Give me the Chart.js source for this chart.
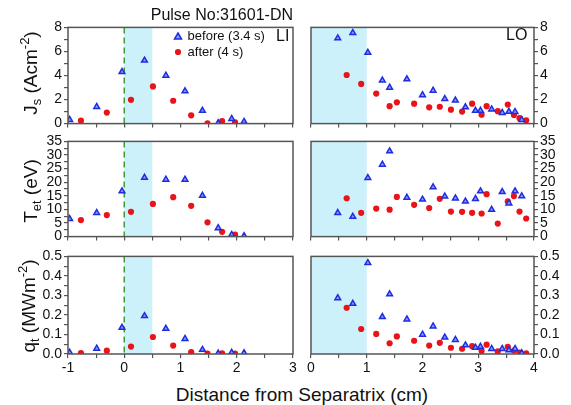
<!DOCTYPE html>
<html>
<head>
<meta charset="utf-8">
<script src="https://cdn.jsdelivr.net/npm/chart.js@4.4.1/dist/chart.umd.min.js"></script>
<style>
body { margin:0; background:#fff; font-family:"Liberation Sans", Arial, sans-serif; color:#111; }
#wrap { position:relative; width:571px; height:405px; overflow:hidden; }
.panel { position:absolute; }
.txt { position:absolute; white-space:nowrap; line-height:1; }
.ytitle { position:absolute; white-space:nowrap; font-size:19px; line-height:1; transform:translate(-50%,-50%) rotate(-90deg); }
sub, sup { font-size:0.68em; line-height:0; }
</style>
</head>
<body>
<div id="wrap">
  <div class="panel" style="left:0;top:17px;width:301px;height:117px"><canvas id="liJs"></canvas></div>
  <div class="panel" style="left:303px;top:17px;width:268px;height:117px"><canvas id="loJs"></canvas></div>
  <div class="panel" style="left:0;top:131px;width:301px;height:116px"><canvas id="liTe"></canvas></div>
  <div class="panel" style="left:303px;top:131px;width:268px;height:116px"><canvas id="loTe"></canvas></div>
  <div class="panel" style="left:0;top:246px;width:301px;height:132px"><canvas id="liQ"></canvas></div>
  <div class="panel" style="left:303px;top:246px;width:268px;height:132px"><canvas id="loQ"></canvas></div>

  <div class="txt" style="right:278px;top:7px;font-size:16px">Pulse No:31601-DN</div>
  <div class="txt" style="left:276px;top:28px;font-size:16px">LI</div>
  <div class="txt" style="left:506px;top:27px;font-size:16px">LO</div>
  <div class="txt" style="left:172px;top:29px;font-size:13px">
    <svg width="12" height="10" style="vertical-align:-1px"><polygon points="6,2 9.5,8 2.5,8" fill="#8f9cff" stroke="#1f2de0" stroke-width="1.5"/></svg>
    before (3.4 s)</div>
  <div class="txt" style="left:172px;top:45px;font-size:13px">
    <svg width="12" height="10" style="vertical-align:-1px"><circle cx="6" cy="5" r="3.1" fill="#e8141a"/></svg>
    after (4 s)</div>

  <div class="ytitle" style="left:30px;top:73px">J<sub>s</sub> (Acm<sup>-2</sup>)</div>
  <div class="ytitle" style="left:30px;top:191px">T<sub>et</sub> (eV)</div>
  <div class="ytitle" style="left:28px;top:306px">q<sub>t</sub> (MWm<sup>-2</sup>)</div>

  <div class="txt" style="left:302px;top:385px;font-size:19px;transform:translateX(-50%)">Distance from Separatrix (cm)</div>
</div>

<script>
// inner-limiter (LI) probes
const liBeforeX = [-0.97, -0.49, -0.04, 0.36, 0.74, 1.08, 1.39, 1.67, 1.91, 2.13];
const liBeforeJs = [0.32, 1.4, 4.3, 5.25, 4.0, 2.7, 1.08, 0.05, 0.4, 0.16];
const liBeforeTe = [6.5, 8.75, 16.7, 21.7, 21.0, 21.0, 15.05, 3.15, 0.7, 0.23];
const liBeforeQ = [0.007, 0.028, 0.135, 0.195, 0.13, 0.078, 0.022, 0.003, 0.007, 0.005];

const liAfterX = [-0.77, -0.31, 0.12, 0.51, 0.87, 1.19, 1.48, 1.74, 1.97];
const liAfterJs = [0.24, 0.92, 1.98, 3.09, 1.9, 0.69, 0.03, 0.21, 0.1];
const liAfterTe = [6.07, 7.9, 9.1, 12.0, 14.5, 11.3, 5.25, 1.75, 0.7];
const liAfterQ = [0.005, 0.017, 0.038, 0.087, 0.043, 0.01, 0.002, 0.003, 0.002];

// outer (LO) probes
const loBeforeX = [0.48, 0.75, 1.02, 1.28, 1.41, 1.72, 2.0, 2.19, 2.40, 2.59, 2.77, 2.95, 3.04, 3.24, 3.43, 3.55, 3.66, 3.78];
const loBeforeJs = [7.1, 7.55, 5.9, 3.6, 3.0, 3.7, 2.38, 2.75, 2.06, 1.93, 1.37, 1.08, 1.08, 1.19, 0.9, 1.0, 0.98, 0.32];
const loBeforeTe = [8.75, 7.35, 21.6, 26.5, 31.4, 14.35, 13.65, 18.2, 14.8, 14.1, 12.95, 13.9, 16.7, 9.9, 16.45, 12.25, 16.7, 14.9];
const loBeforeQ = [0.287, 0.258, 0.467, 0.19, 0.307, 0.178, 0.1, 0.142, 0.085, 0.073, 0.045, 0.033, 0.038, 0.027, 0.027, 0.02, 0.027, 0.005];

const loAfterX = [0.64, 0.90, 1.17, 1.41, 1.54, 1.85, 2.12, 2.31, 2.51, 2.71, 2.89, 3.06, 3.15, 3.35, 3.53, 3.64, 3.74, 3.86];
const loAfterJs = [4.04, 3.3, 2.5, 1.45, 1.77, 1.66, 1.35, 1.4, 1.16, 1.0, 1.66, 0.74, 1.45, 1.03, 1.58, 0.71, 0.45, 0.26];
const loAfterTe = [14.1, 8.75, 10.3, 9.9, 14.6, 11.7, 10.5, 13.9, 9.2, 9.1, 8.75, 8.5, 15.6, 4.8, 12.95, 14.9, 9.2, 6.65];
const loAfterQ = [0.237, 0.128, 0.103, 0.055, 0.09, 0.068, 0.043, 0.057, 0.032, 0.027, 0.04, 0.015, 0.048, 0.013, 0.037, 0.018, 0.007, 0.003];

const font = {family: '"Liberation Sans", Arial, sans-serif', size: 14};
const axisColor = '#555';

function pts(xs, ys) {
  return xs.map((x, i) => ({x: x, y: ys[i]}));
}

// shaded band, separatrix line and the closed frame
const decor = {
  id: 'decor',
  beforeDatasetsDraw(chart, args, opts) {
    const {ctx, chartArea: a, scales: {x}} = chart;
    ctx.save();
    ctx.fillStyle = '#cdf1fb';
    const x0 = x.getPixelForValue(0), x1 = x.getPixelForValue(opts.band);
    ctx.fillRect(x0, a.top, x1 - x0, a.bottom - a.top);
    if (opts.sep) {
      ctx.strokeStyle = '#3d9a3d';
      ctx.lineWidth = 1.5;
      ctx.setLineDash([6, 4]);
      ctx.beginPath();
      ctx.moveTo(x0, a.top);
      ctx.lineTo(x0, a.bottom);
      ctx.stroke();
    }
    ctx.restore();
  },
  afterDraw(chart) {
    const {ctx, chartArea: a} = chart;
    ctx.save();
    ctx.strokeStyle = axisColor;
    ctx.lineWidth = 1.5;
    ctx.strokeRect(a.left, a.top, a.right - a.left, a.bottom - a.top);
    ctx.restore();
  }
};

function makePanel(id, side, before, after, yMax, yStep, yLabel, xLabels) {
  const left = side === 'LI';
  new Chart(document.getElementById(id), {
    type: 'scatter',
    data: {
      datasets: [
        {label: 'before (3.4 s)', data: before, pointStyle: 'triangle', pointRadius: 3.3,
         backgroundColor: '#8f9cff', borderColor: '#1f2de0', borderWidth: 1.5},
        {label: 'after (4 s)', data: after, pointStyle: 'circle', pointRadius: 3.1,
         backgroundColor: '#e8141a', borderColor: '#e8141a', borderWidth: 0}
      ]
    },
    options: {
      responsive: true,
      maintainAspectRatio: false,
      animation: false,
      events: [],
      layout: {padding: left ? {top: 8, right: 8, left: 0, bottom: 0} : {top: 8, right: 0, left: 8, bottom: 0}},
      plugins: {
        legend: {display: false},
        tooltip: {enabled: false},
        decor: {band: left ? 0.5 : 1, sep: left}
      },
      scales: {
        x: {
          type: 'linear',
          min: left ? -1 : 0,
          max: left ? 3 : 4,
          border: {display: false},
          grid: {drawOnChartArea: false, tickLength: 4, color: axisColor, lineWidth: 1.2},
          ticks: {stepSize: 0.5, autoSkip: false, maxRotation: 0, padding: 2, font: font, color: '#111',
                  display: xLabels,
                  callback: v => Number.isInteger(v) ? v : ''},
          afterFit: s => { s.height = xLabels ? 24 : 8; }
        },
        y: {
          position: left ? 'left' : 'right',
          min: 0,
          max: yMax,
          border: {display: false},
          grid: {drawOnChartArea: false, tickLength: 4, color: axisColor, lineWidth: 1.2},
          ticks: {stepSize: yStep, autoSkip: false, padding: 2, font: font, color: '#111', callback: yLabel},
          afterFit: s => { s.width = left ? 68 : 37; }
        }
      }
    },
    plugins: [decor]
  });
}

const jsLabel = v => v % 2 === 0 ? v : '';
const teLabel = v => v % 5 === 0 ? v : '';
const qLabel = v => Math.abs(v * 10 - Math.round(v * 10)) < 1e-6 ? v.toFixed(1) : '';

makePanel('liJs', 'LI', pts(liBeforeX, liBeforeJs), pts(liAfterX, liAfterJs), 8, 1, jsLabel, false);
makePanel('loJs', 'LO', pts(loBeforeX, loBeforeJs), pts(loAfterX, loAfterJs), 8, 1, jsLabel, false);
makePanel('liTe', 'LI', pts(liBeforeX, liBeforeTe), pts(liAfterX, liAfterTe), 35, 2.5, teLabel, false);
makePanel('loTe', 'LO', pts(loBeforeX, loBeforeTe), pts(loAfterX, loAfterTe), 35, 2.5, teLabel, false);
makePanel('liQ', 'LI', pts(liBeforeX, liBeforeQ), pts(liAfterX, liAfterQ), 0.5, 0.05, qLabel, true);
makePanel('loQ', 'LO', pts(loBeforeX, loBeforeQ), pts(loAfterX, loAfterQ), 0.5, 0.05, qLabel, true);
</script>
</body>
</html>
